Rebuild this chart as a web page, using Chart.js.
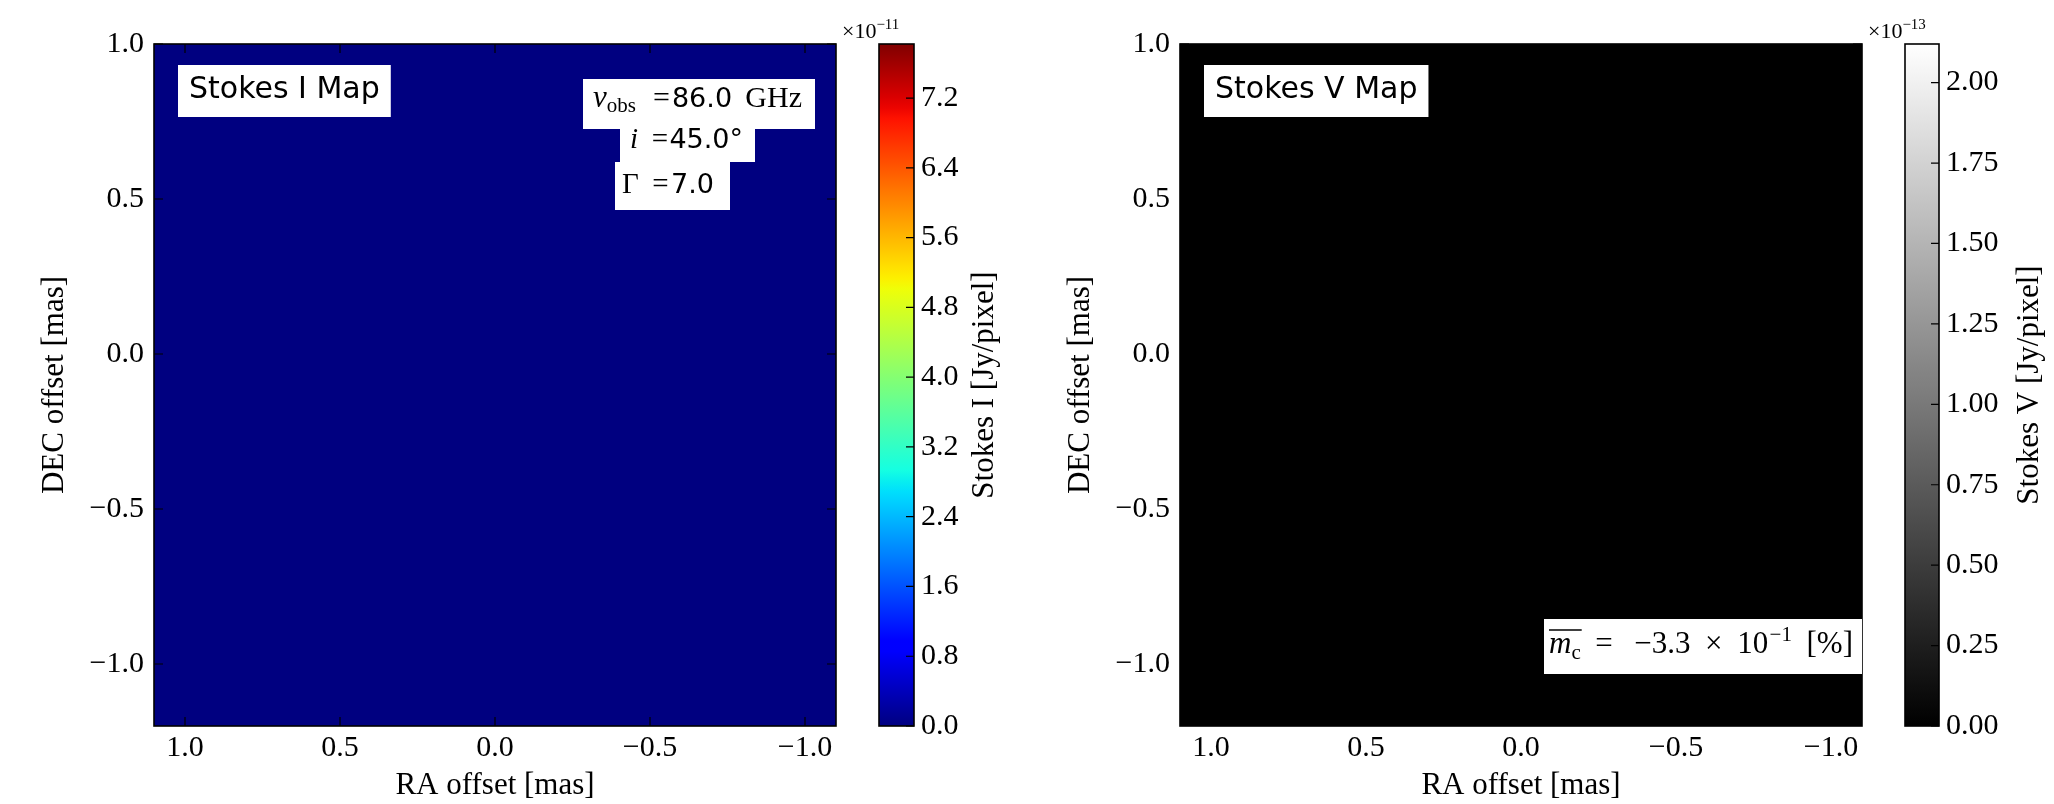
<!DOCTYPE html>
<html>
<head>
<meta charset="utf-8">
<script src="https://cdn.jsdelivr.net/npm/chart.js@4.4.1/dist/chart.umd.min.js"></script>
<style>
  html, body { margin: 0; padding: 0; background: #fff; width: 2054px; height: 804px; overflow: hidden; }
  canvas { position: absolute; top: 0; }
</style>
</head>
<body>
<canvas id="mapI" style="left:0px;width:860px;height:804px" width="860" height="804"></canvas>
<canvas id="cbI" style="left:830px;width:220px;height:804px" width="220" height="804"></canvas>
<canvas id="mapV" style="left:1026px;width:860px;height:804px" width="860" height="804"></canvas>
<canvas id="cbV" style="left:1856px;width:198px;height:804px" width="198" height="804"></canvas>
<script>
// ---------------- data ----------------
const raCenters = [0.825, 0.275, -0.275, -0.825];          // map cell centres, RA offset [mas]
const decEdges  = [-1.2, -0.65, -0.1, 0.45, 1.0];          // map row edges, DEC offset [mas]
const stokesI = [                                          // ×1e-11 Jy/pixel, rows bottom→top
  [0.0, 0.0, 0.0, 0.0],
  [0.0, 0.0, 0.0, 0.0],
  [0.0, 0.0, 0.0, 0.0],
  [0.0, 0.0, 0.0, 0.0]
];
const stokesV = [                                          // ×1e-13 Jy/pixel
  [0.0, 0.0, 0.0, 0.0],
  [0.0, 0.0, 0.0, 0.0],
  [0.0, 0.0, 0.0, 0.0],
  [0.0, 0.0, 0.0, 0.0]
];
const raRange  = [-1.1, 1.1];
const decRange = [-1.2, 1.0];
const raTicks  = [1.0, 0.5, 0.0, -0.5, -1.0];
const decTicks = [1.0, 0.5, 0.0, -0.5, -1.0];
const stokesIRange = [0.0, 7.82];
const stokesVRange = [0.0, 2.12];
const stokesITicks = [0.0, 0.8, 1.6, 2.4, 3.2, 4.0, 4.8, 5.6, 6.4, 7.2];
const stokesVTicks = [0.00, 0.25, 0.50, 0.75, 1.00, 1.25, 1.50, 1.75, 2.00];

// ---------------- helpers ----------------
const SERIF = "'Liberation Serif', serif";
const SANS = "'DejaVu Sans', sans-serif";
function fmt(v, d) { return (v < 0 ? '\u2212' : '') + Math.abs(v).toFixed(d); }
function clamp(t) { return Math.min(1, Math.max(0, t)); }
function seg(pts, t) {
  for (let i = 1; i < pts.length; i++) {
    if (t <= pts[i][0]) {
      const [x0, y0] = pts[i - 1], [x1, y1] = pts[i];
      return y0 + (y1 - y0) * (t - x0) / (x1 - x0);
    }
  }
  return pts[pts.length - 1][1];
}
const JET = {
  r: [[0, 0], [0.35, 0], [0.66, 1], [0.89, 1], [1, 0.5]],
  g: [[0, 0], [0.125, 0], [0.375, 1], [0.64, 1], [0.91, 0], [1, 0]],
  b: [[0, 0.5], [0.11, 1], [0.34, 1], [0.65, 0], [1, 0]]
};
function jet(t) {
  t = clamp(t);
  return `rgb(${Math.round(255 * seg(JET.r, t))},${Math.round(255 * seg(JET.g, t))},${Math.round(255 * seg(JET.b, t))})`;
}
function gray(t) { const v = Math.round(255 * clamp(t)); return `rgb(${v},${v},${v})`; }

// draws text runs starting at x (baseline y); if a target width is given, the
// extra room is spread over the runs that carry a `gap` weight (placed before them)
function runs(ctx, x, y, parts, target) {
  ctx.fillStyle = '#000'; ctx.textAlign = 'left'; ctx.textBaseline = 'alphabetic';
  let natural = 0, weights = 0;
  for (const p of parts) { ctx.font = p.f; p.w = ctx.measureText(p.t).width; natural += p.w; weights += (p.gap || 0); }
  const extra = (target && weights) ? Math.max(0, (target - natural) / weights) : 0;
  let cx = x;
  for (const p of parts) {
    cx += (p.gap || 0) * extra;
    ctx.font = p.f;
    ctx.fillText(p.t, cx, y + (p.dy || 0));
    p.x0 = cx; cx += p.w; p.x1 = cx;
  }
  return cx;
}
function whiteBox(ctx, x0, y0, x1, y1) { ctx.fillStyle = '#fff'; ctx.fillRect(x0, y0, x1 - x0, y1 - y0); }

function drawFrame(chart, mode, len) {
  const { ctx, chartArea: a } = chart;
  ctx.save();
  ctx.strokeStyle = '#000';
  ctx.lineWidth = 1.2;
  ctx.beginPath();
  if (mode === 'map') {
    const xs = chart.scales.x, ys = chart.scales.y;
    for (const t of xs.ticks) {
      const p = xs.getPixelForValue(t.value);
      ctx.moveTo(p, a.bottom); ctx.lineTo(p, a.bottom - len);
      ctx.moveTo(p, a.top); ctx.lineTo(p, a.top + len);
    }
    for (const t of ys.ticks) {
      const p = ys.getPixelForValue(t.value);
      ctx.moveTo(a.left, p); ctx.lineTo(a.left + len, p);
      ctx.moveTo(a.right, p); ctx.lineTo(a.right - len, p);
    }
  } else {
    const ys = chart.scales.y;
    for (const t of ys.ticks) {
      const p = ys.getPixelForValue(t.value);
      ctx.moveTo(a.right, p); ctx.lineTo(a.right - len, p);
    }
  }
  ctx.stroke();
  ctx.lineWidth = 1.6;
  ctx.strokeRect(a.left, a.top, a.right - a.left, a.bottom - a.top);
  ctx.restore();
}

function mapLabel(ctx, a, text) {
  ctx.font = `30px ${SANS}`;
  const w = ctx.measureText(text).width;
  whiteBox(ctx, a.left + 24, a.top + 21, a.left + 24 + w + 22, a.top + 73);
  ctx.fillStyle = '#000'; ctx.textAlign = 'left'; ctx.textBaseline = 'alphabetic';
  ctx.fillText(text, a.left + 35, a.top + 54);
}

// ---------------- charts ----------------
function makeMap(id, values, range, cmap, extras) {
  const datasets = values.map((row, r) => ({
    data: raCenters.map(x => ({ x: x, y: [decEdges[r], decEdges[r + 1]] })),
    backgroundColor: row.map(v => cmap((v - range[0]) / (range[1] - range[0]))),
    borderWidth: 0,
    inflateAmount: 1,
    stack: 'map',
    barThickness: 'flex',
    barPercentage: 1,
    categoryPercentage: 1
  }));
  return new Chart(document.getElementById(id), {
    type: 'bar',
    data: { datasets },
    options: {
      responsive: false, animation: false, events: [],
      layout: { padding: { left: 0, top: 44, right: 24, bottom: 0 } },
      scales: {
        x: {
          type: 'linear', min: raRange[0], max: raRange[1], reverse: true, offset: false,
          afterBuildTicks: s => { s.ticks = raTicks.map(v => ({ value: v })); },
          afterFit: s => { s.height = 78; },
          grid: { display: false, drawTicks: false }, border: { display: false },
          ticks: { autoSkip: false, maxRotation: 0, padding: 4, color: '#000',
                   font: { family: SERIF, size: 30 }, callback: v => fmt(v, 1) },
          title: { display: true, text: 'RA offset [mas]', color: '#000',
                   font: { family: SERIF, size: 31 }, padding: { top: 0, bottom: 0 } }
        },
        y: {
          type: 'linear', min: decRange[0], max: decRange[1], stacked: false,
          afterBuildTicks: s => { s.ticks = decTicks.map(v => ({ value: v })); },
          afterFit: s => { s.width = 154; },
          grid: { display: false, drawTicks: false }, border: { display: false },
          ticks: { autoSkip: false, padding: 10, color: '#000',
                   font: { family: SERIF, size: 30 }, callback: v => fmt(v, 1) },
          title: { display: true, text: 'DEC offset [mas]', color: '#000',
                   font: { family: SERIF, size: 31 }, padding: { top: 36, bottom: 0 } }
        }
      },
      plugins: { legend: { display: false }, tooltip: { enabled: false } }
    },
    plugins: [{
      id: 'deco',
      afterDraw(chart) {
        drawFrame(chart, 'map', 9);
        const ctx = chart.ctx;
        ctx.save();
        extras(ctx, chart.chartArea);
        ctx.restore();
      }
    }]
  });
}

function makeColorbar(id, range, ticks, decimals, cmap, axisWidth, label, labelOffset, exponent) {
  return new Chart(document.getElementById(id), {
    type: 'bar',
    data: {
      labels: ['cb'],
      datasets: [{
        data: [[range[0], range[1]]],
        backgroundColor: (c) => {
          const chart = c.chart;
          if (!chart.chartArea) return '#000';
          const ys = chart.scales.y;
          const g = chart.ctx.createLinearGradient(0, ys.getPixelForValue(range[0]), 0, ys.getPixelForValue(range[1]));
          for (let i = 0; i <= 64; i++) g.addColorStop(i / 64, cmap(i / 64));
          return g;
        },
        borderWidth: 0, barPercentage: 1, categoryPercentage: 1
      }]
    },
    options: {
      responsive: false, animation: false, events: [],
      layout: { padding: { left: 49, top: 44, right: 0, bottom: 78 } },
      scales: {
        x: { display: false },
        y: {
          position: 'right', min: range[0], max: range[1],
          afterBuildTicks: s => { s.ticks = ticks.map(v => ({ value: v })); },
          afterFit: s => { s.width = axisWidth; },
          grid: { display: false, drawTicks: false }, border: { display: false },
          ticks: { autoSkip: false, padding: 7, color: '#000',
                   font: { family: SERIF, size: 30 }, callback: v => fmt(v, decimals) }
        }
      },
      plugins: { legend: { display: false }, tooltip: { enabled: false } }
    },
    plugins: [{
      id: 'cbdeco',
      afterDraw(chart) {
        drawFrame(chart, 'cb', 8);
        const { ctx, chartArea: a } = chart;
        ctx.save();
        runs(ctx, a.left - 37, 38, [
          { t: '\u00d710', f: `22px ${SERIF}` },
          { t: exponent, f: `15px ${SERIF}`, dy: -9 }
        ]);
        ctx.translate(a.right + labelOffset, (a.top + a.bottom) / 2);
        ctx.rotate(-Math.PI / 2);
        ctx.font = `31px ${SERIF}`;
        ctx.textAlign = 'center'; ctx.textBaseline = 'middle'; ctx.fillStyle = '#000';
        ctx.fillText(label, 0, 0);
        ctx.restore();
      }
    }]
  });
}

makeMap('mapI', stokesI, stokesIRange, jet, (ctx, a) => {
  mapLabel(ctx, a, 'Stokes I Map');
  whiteBox(ctx, a.left + 429, a.top + 35, a.left + 661, a.top + 85);
  whiteBox(ctx, a.left + 466, a.top + 79, a.left + 601, a.top + 118);
  whiteBox(ctx, a.left + 461, a.top + 118, a.left + 576, a.top + 166);
  runs(ctx, a.left + 439, a.top + 63, [
    { t: '\u03bd', f: `italic 31px ${SERIF}` },
    { t: 'obs', f: `21px ${SERIF}`, dy: 5 },
    { t: ' =', f: `30px ${SERIF}`, gap: 1 },
    { t: '86.0', f: `27px ${SANS}`, gap: 0.2 },
    { t: ' GHz', f: `30px ${SERIF}`, gap: 0.6 }
  ], 209);
  runs(ctx, a.left + 476, a.top + 104, [
    { t: 'i', f: `italic 29px ${SERIF}` },
    { t: ' =', f: `29px ${SERIF}`, gap: 1 },
    { t: '45.0\u00b0', f: `27px ${SANS}`, gap: 0.2 }
  ], 113);
  runs(ctx, a.left + 468, a.top + 149, [
    { t: '\u0393', f: `29px ${SERIF}` },
    { t: ' =', f: `29px ${SERIF}`, gap: 0.5 },
    { t: '7.0', f: `27px ${SANS}`, gap: 0.2 }
  ], 92);
});

makeMap('mapV', stokesV, stokesVRange, gray, (ctx, a) => {
  mapLabel(ctx, a, 'Stokes V Map');
  whiteBox(ctx, a.left + 364, a.top + 575, a.right, a.top + 630);
  const parts = [
    { t: 'm', f: `italic 31px ${SERIF}` },
    { t: 'c', f: `21px ${SERIF}`, dy: 6 },
    { t: ' = ', f: `31px ${SERIF}`, gap: 1 },
    { t: '\u22123.3', f: `31px ${SERIF}`, gap: 2 },
    { t: ' \u00d7 ', f: `31px ${SERIF}`, gap: 1 },
    { t: '10', f: `31px ${SERIF}`, gap: 1 },
    { t: '\u22121', f: `21px ${SERIF}`, dy: -12, gap: 0.2 },
    { t: ' [%]', f: `31px ${SERIF}`, gap: 1 }
  ];
  const x0 = a.left + 369, base = a.top + 609;
  runs(ctx, x0, base, parts, 304);
  ctx.strokeStyle = '#000'; ctx.lineWidth = 1.3;
  ctx.beginPath();
  ctx.moveTo(parts[0].x0, base - 23); ctx.lineTo(parts[1].x1 + 1, base - 23);
  ctx.stroke();
});

makeColorbar('cbI', stokesIRange, stokesITicks, 1, jet, 136, 'Stokes I [Jy/pixel]', 71, '\u221211');
makeColorbar('cbV', stokesVRange, stokesVTicks, 2, gray, 115, 'Stokes V [Jy/pixel]', 91, '\u221213');
</script>
</body>
</html>
